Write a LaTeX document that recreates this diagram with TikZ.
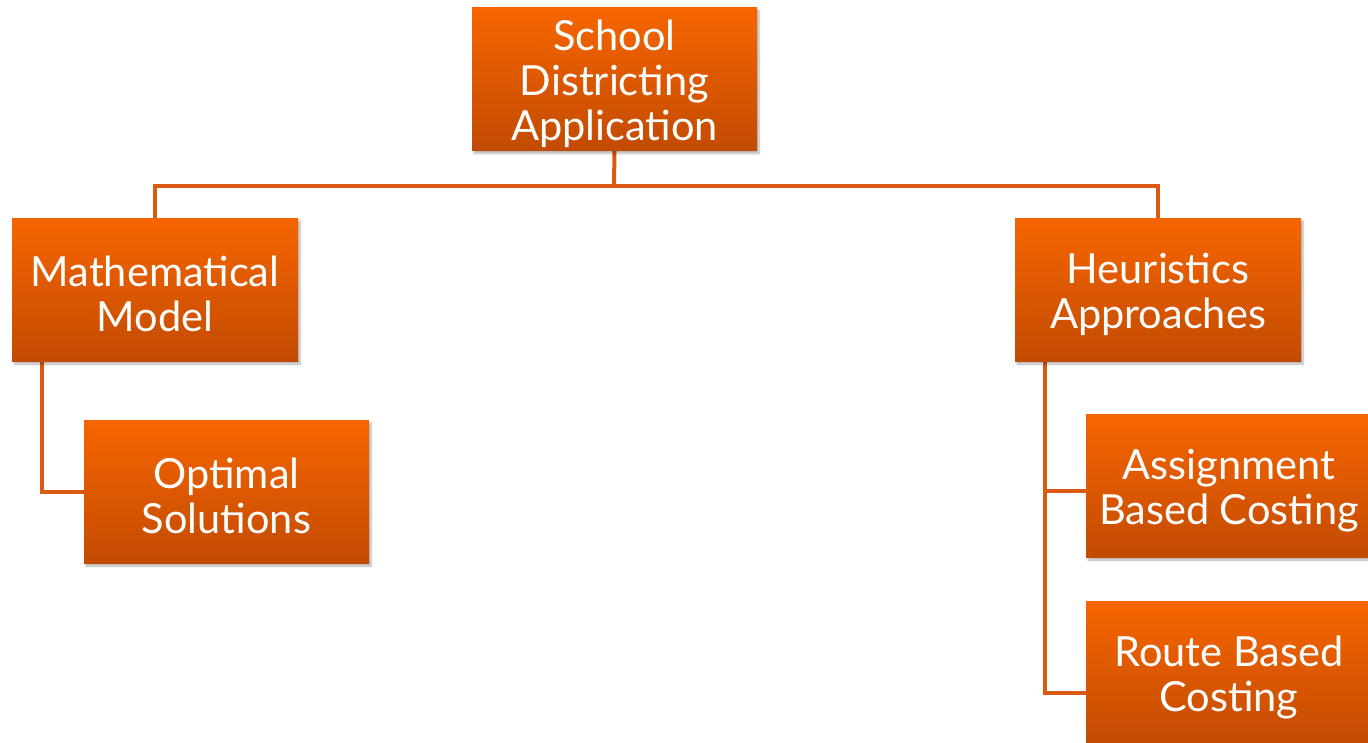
\documentclass[tikz,border=0pt]{standalone}
\usepackage{fontspec}
\setmainfont{Lato}
\usetikzlibrary{shadows.blur,backgrounds}
\definecolor{boxtop}{HTML}{F76500}
\definecolor{boxbot}{HTML}{C24B02}
\definecolor{linec}{HTML}{D95B12}
\newcommand{\tstrut}{\rule{0pt}{40pt}}
\begin{document}
\begin{tikzpicture}[x=1pt,y=-1pt,
  box/.style={rectangle, top color=boxtop, bottom color=boxbot, draw=none,
    minimum width=285pt, minimum height=143pt, text=white, align=center,
    font=\fontsize{41.5}{45}\selectfont, inner sep=0pt,
    blur shadow={shadow xshift=2pt, shadow yshift=-3pt, shadow opacity=30, shadow blur steps=6}},
  conn/.style={draw=linec, line width=4pt}]
\useasboundingbox (0,0) rectangle (1368,742);
\begin{scope}
\clip (0,0) rectangle (1368,742);
\node[box] (top) at (614.5,79) {\tstrut School\\Districting\\Application};
\node[box, minimum width=286pt] (math) at (155,289.5) {\tstrut Mathematical\\Model};
\node[box, minimum width=286pt] (heur) at (1158,289.5) {\tstrut Heuristics\\Approaches};
\node[box] (opt) at (226.5,491.5) {\tstrut Optimal\\Solutions};
\node[box, minimum width=286pt] (assign) at (1229,485.5) {\tstrut Assignment\\Based Costing};
\node[box, minimum width=286pt] (route) at (1229,672.5) {\tstrut Route Based\\Costing};
\coordinate (bar) at (614,186);
\coordinate (mstem) at (42,361);
\coordinate (hstem) at (1045,361);
\begin{scope}[on background layer]
\draw[conn] (top.south) -- (bar);
\draw[conn] (bar) -| (math.north);
\draw[conn] (bar) -| (heur.north);
\draw[conn] (mstem) |- (opt.west);
\draw[conn] (hstem) |- ([yshift=-5.5pt]assign.west);
\draw[conn] (hstem) |- ([yshift=-20.5pt]route.west);
\end{scope}
\end{scope}
\end{tikzpicture}
\end{document}
